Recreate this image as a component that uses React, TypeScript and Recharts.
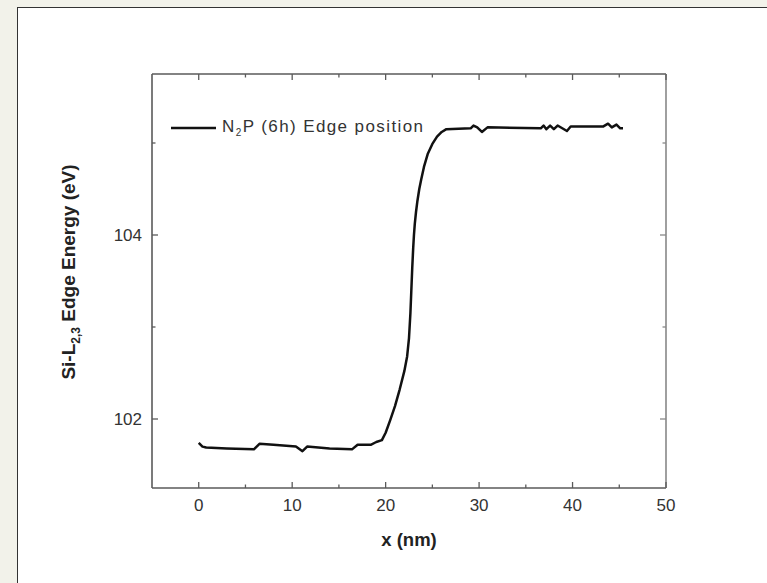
import React from 'react';
import { LineChart, Line, XAxis, YAxis, Legend } from 'recharts';

// Position along the profile (nm)
const positionNm = [
  0, 0.4, 0.8, 3, 5.9, 6.5, 8, 10.4, 11.1, 11.6, 14, 16.4, 17, 18.4, 19, 19.6,
  20.0, 20.5, 21.0, 21.5, 22.0, 22.3, 22.5, 22.65, 22.75, 22.85, 22.95, 23.03,
  23.12, 23.25, 23.4, 23.6, 23.8, 24.1, 24.5, 25.0, 25.5, 26.0, 26.5, 29.1, 29.4,
  29.8, 30.3, 30.9, 36.6, 36.9, 37.2, 37.6, 38.0, 38.4, 38.9, 39.4, 39.8, 43.3,
  43.8, 44.2, 44.7, 45.1, 45.4,
];
// Si-L2,3 edge energy (eV)
const edgeEnergy = [
  101.74, 101.7, 101.69, 101.68, 101.67, 101.73, 101.72, 101.7, 101.65, 101.7,
  101.68, 101.67, 101.72, 101.72, 101.75, 101.77,
  101.85, 101.99, 102.14, 102.32, 102.52, 102.68, 102.88, 103.15, 103.4, 103.65,
  103.86, 104.0, 104.12, 104.25, 104.37, 104.5, 104.6, 104.74, 104.88, 104.99,
  105.07, 105.12, 105.15, 105.16, 105.19, 105.17, 105.12, 105.17, 105.16, 105.19,
  105.15, 105.19, 105.15, 105.19, 105.16, 105.13, 105.18, 105.18, 105.21, 105.17,
  105.2, 105.16, 105.16,
];
const xTicks = [0, 5, 10, 15, 20, 25, 30, 35, 40, 45, 50];
const xLabelTicks = [0, 10, 20, 30, 40, 50];
const yTicks = [102, 103, 104, 105];
const yLabelTicks = [102, 104];
const seriesName = 'N2P (6h) Edge position';

const data = positionNm.map((x, i) => ({ x, e: edgeEnergy[i] }));

const FONT = '"Liberation Sans", Arial, Helvetica, sans-serif';
const AXIS_COLOR = '#5a5a5a';

const BottomTick = (props: any) => {
  const { x, y, payload } = props;
  const v = payload.value;
  const major = xLabelTicks.includes(v);
  return (
    <g>
      <line x1={x} x2={x} y1={y} y2={y - (major ? 6 : 3.5)} stroke={AXIS_COLOR} strokeWidth={1.3} />
      {major && (
        <text x={x} y={y + 23} textAnchor="middle" fontSize={17} fill="#333" fontFamily={FONT}>
          {v}
        </text>
      )}
    </g>
  );
};

const TopTick = (props: any) => {
  const { x, y, payload } = props;
  const major = xLabelTicks.includes(payload.value);
  return <line x1={x} x2={x} y1={y} y2={y + (major ? 6 : 3.5)} stroke={AXIS_COLOR} strokeWidth={1.3} />;
};

const LeftTick = (props: any) => {
  const { x, y, payload } = props;
  const v = payload.value;
  const major = yLabelTicks.includes(v);
  return (
    <g>
      <line x1={x} x2={x + (major ? 6 : 3.5)} y1={y} y2={y} stroke={AXIS_COLOR} strokeWidth={1.3} />
      {major && (
        <text x={x - 10} y={y + 6} textAnchor="end" fontSize={17} fill="#333" fontFamily={FONT}>
          {v}
        </text>
      )}
    </g>
  );
};

const RightTick = (props: any) => {
  const { x, y, payload } = props;
  const major = yLabelTicks.includes(payload.value);
  return <line x1={x} x2={x - (major ? 6 : 3.5)} y1={y} y2={y} stroke="#888" strokeWidth={1.3} />;
};

const YTitle = (props: any) => {
  const vb = props.viewBox || { x: 92, y: 74, width: 60, height: 414 };
  const cx = vb.x - 17;
  const cy = vb.y + vb.height / 2 - 9;
  return (
    <text
      x={cx}
      y={cy}
      transform={`rotate(-90, ${cx}, ${cy})`}
      textAnchor="middle"
      fontSize={19}
      fontWeight="bold"
      fill="#222"
      fontFamily={FONT}
    >
      <tspan>Si-L</tspan>
      <tspan fontSize={12} dy={5}>2,3</tspan>
      <tspan dy={-5}> Edge Energy (eV)</tspan>
    </text>
  );
};

const XTitle = (props: any) => {
  const vb = props.viewBox || { x: 152, y: 488, width: 514, height: 30 };
  return (
    <text
      x={vb.x + vb.width / 2}
      y={546}
      textAnchor="middle"
      fontSize={18.5}
      fontWeight="bold"
      fill="#222"
      fontFamily={FONT}
    >
      x (nm)
    </text>
  );
};

const LegendContent = () => (
  <div style={{ display: 'flex', alignItems: 'center', fontFamily: FONT, fontSize: 17, color: '#333', letterSpacing: 1.4, whiteSpace: 'nowrap' }}>
    <svg width={46} height={10} style={{ marginRight: 5 }}>
      <line x1={0} x2={45} y1={5} y2={5} stroke="#111" strokeWidth={2.5} />
    </svg>
    <span>
      N<sub style={{ fontSize: 10, verticalAlign: 'sub' }}>2</sub>P (6h) Edge position
    </span>
  </div>
);

export default function App() {
  return (
    <div style={{ position: 'fixed', left: 0, top: 0, width: 767, height: 583, background: '#f2f2ea', overflow: 'hidden' }}>
      <div
        style={{
          position: 'absolute',
          left: 17,
          top: 7,
          width: 780,
          height: 600,
          background: '#ffffff',
          borderLeft: '1.5px solid #333',
          borderTop: '1.5px solid #333',
        }}
      />
      <div style={{ position: 'absolute', left: 0, top: 0 }}>
        <LineChart width={767} height={583} data={data} margin={{ top: 73, right: 100, bottom: 65, left: 92 }}>
          <XAxis
            dataKey="x"
            type="number"
            domain={[-5, 50]}
            ticks={xTicks}
            interval={0}
            allowDataOverflow
            height={30}
            tickSize={0}
            tickMargin={0}
            tick={<BottomTick />}
            axisLine={{ stroke: AXIS_COLOR, strokeWidth: 1.6 }}
            label={<XTitle />}
          />
          <XAxis
            xAxisId="top"
            orientation="top"
            dataKey="x"
            type="number"
            domain={[-5, 50]}
            ticks={xTicks}
            interval={0}
            allowDataOverflow
            height={1}
            tickSize={0}
            tickMargin={0}
            tick={<TopTick />}
            axisLine={{ stroke: AXIS_COLOR, strokeWidth: 1.6 }}
          />
          <YAxis
            type="number"
            domain={[101.25, 105.75]}
            ticks={yTicks}
            interval={0}
            allowDataOverflow
            width={60}
            tickSize={0}
            tickMargin={0}
            tick={<LeftTick />}
            axisLine={{ stroke: AXIS_COLOR, strokeWidth: 1.6 }}
            label={<YTitle />}
          />
          <YAxis
            yAxisId="right"
            orientation="right"
            type="number"
            domain={[101.25, 105.75]}
            ticks={yTicks}
            interval={0}
            allowDataOverflow
            width={1}
            tickSize={0}
            tickMargin={0}
            tick={<RightTick />}
            axisLine={{ stroke: '#888', strokeWidth: 1.6 }}
          />
          <Legend
            layout="horizontal"
            verticalAlign="middle"
            align="center"
            content={<LegendContent />}
            wrapperStyle={{ position: 'absolute', left: 171, top: 117, width: 'auto', height: 'auto' }}
          />
          <Line
            type="linear"
            dataKey="e"
            name={seriesName}
            stroke="#111"
            strokeWidth={2.5}
            strokeLinejoin="round"
            dot={false}
            isAnimationActive={false}
          />
          <Line
            xAxisId="top"
            yAxisId="right"
            type="linear"
            dataKey="e"
            stroke="none"
            strokeWidth={0}
            dot={false}
            activeDot={false}
            legendType="none"
            isAnimationActive={false}
          />
        </LineChart>
      </div>
    </div>
  );
}
